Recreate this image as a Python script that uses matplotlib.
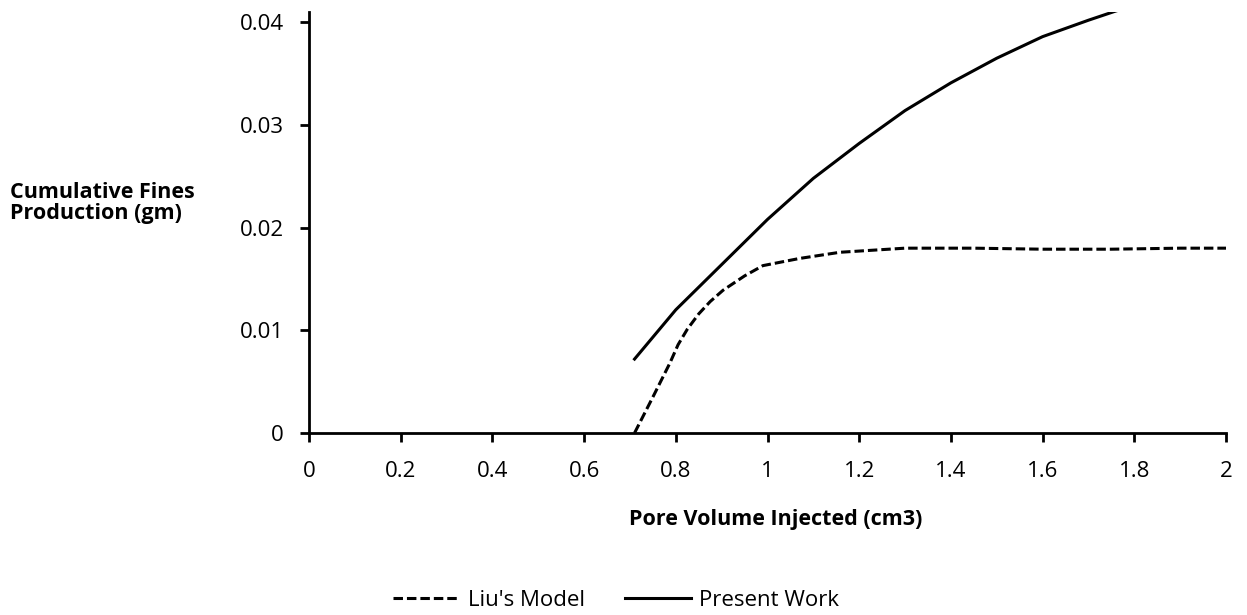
import matplotlib
matplotlib.use("Agg")
import matplotlib.pyplot as plt

# Data
liu_x = [0.71, 0.75, 0.787, 0.805, 0.825, 0.85, 0.875, 0.903, 0.95, 0.99, 1.07, 1.158, 1.3, 1.45, 1.6, 1.75, 1.9, 2.0]
liu_y = [0.0, 0.0035, 0.0068, 0.0086, 0.0101, 0.0116, 0.0128, 0.0139, 0.0153, 0.0163, 0.0170, 0.0176, 0.0180, 0.0180, 0.0179, 0.0179, 0.0180, 0.0180]
pw_x = [0.71, 0.8, 0.9, 1.0, 1.1, 1.2, 1.3, 1.4, 1.5, 1.6, 1.7, 1.76, 1.8]
pw_y = [0.0072, 0.0120, 0.0164, 0.0208, 0.0248, 0.0282, 0.0314, 0.0341, 0.0365, 0.0386, 0.0402, 0.0411, 0.0416]
xticks = [0, 0.2, 0.4, 0.6, 0.8, 1, 1.2, 1.4, 1.6, 1.8, 2]
xticklabels = ["0", "0.2", "0.4", "0.6", "0.8", "1", "1.2", "1.4", "1.6", "1.8", "2"]
yticks = [0, 0.01, 0.02, 0.03, 0.04]
yticklabels = ["0", "0.01", "0.02", "0.03", "0.04"]

plt.rcParams['font.family'] = ['Open Sans', 'DejaVu Sans']

fig = plt.figure(figsize=(12.47, 6.15), dpi=100)
ax = fig.add_axes([309/1247, 1-433/615, (1226-309)/1247, (433-12)/615])

ax.plot(liu_x, liu_y, color='black', lw=2.2, linestyle=(0, (3.1, 1.3)), label="Liu's Model")
ax.plot(pw_x, pw_y, color='black', lw=2.2, label="Present Work")

ax.set_xlim(0, 2)
ax.set_ylim(0, 0.041)
ax.set_xticks(xticks)
ax.set_xticklabels(xticklabels)
ax.set_yticks(yticks)
ax.set_yticklabels(yticklabels)
for s in ['top', 'right']:
    ax.spines[s].set_visible(False)
for s in ['left', 'bottom']:
    ax.spines[s].set_linewidth(2.0)
ax.tick_params(axis='both', direction='out', length=6.3, width=2.0, labelsize=16)
ax.tick_params(axis='x', pad=14)
ax.tick_params(axis='y', pad=12)

fig.text(10/1247, 1-203/615, "Cumulative Fines\nProduction (gm)", fontsize=15.5, fontweight='bold',
         ha='left', va='center', linespacing=1.0)
fig.text(776/1247, 1-520/615, "Pore Volume Injected (cm3)", fontsize=15.5, fontweight='bold',
         ha='center', va='center')

leg = fig.legend(loc='center', bbox_to_anchor=(616/1247, 1-600/615), ncol=2, frameon=False,
                 fontsize=16, handlelength=3.0, handletextpad=0.35, columnspacing=1.8,
                 borderpad=0, borderaxespad=0)

fig.savefig("out.png", dpi=100)
